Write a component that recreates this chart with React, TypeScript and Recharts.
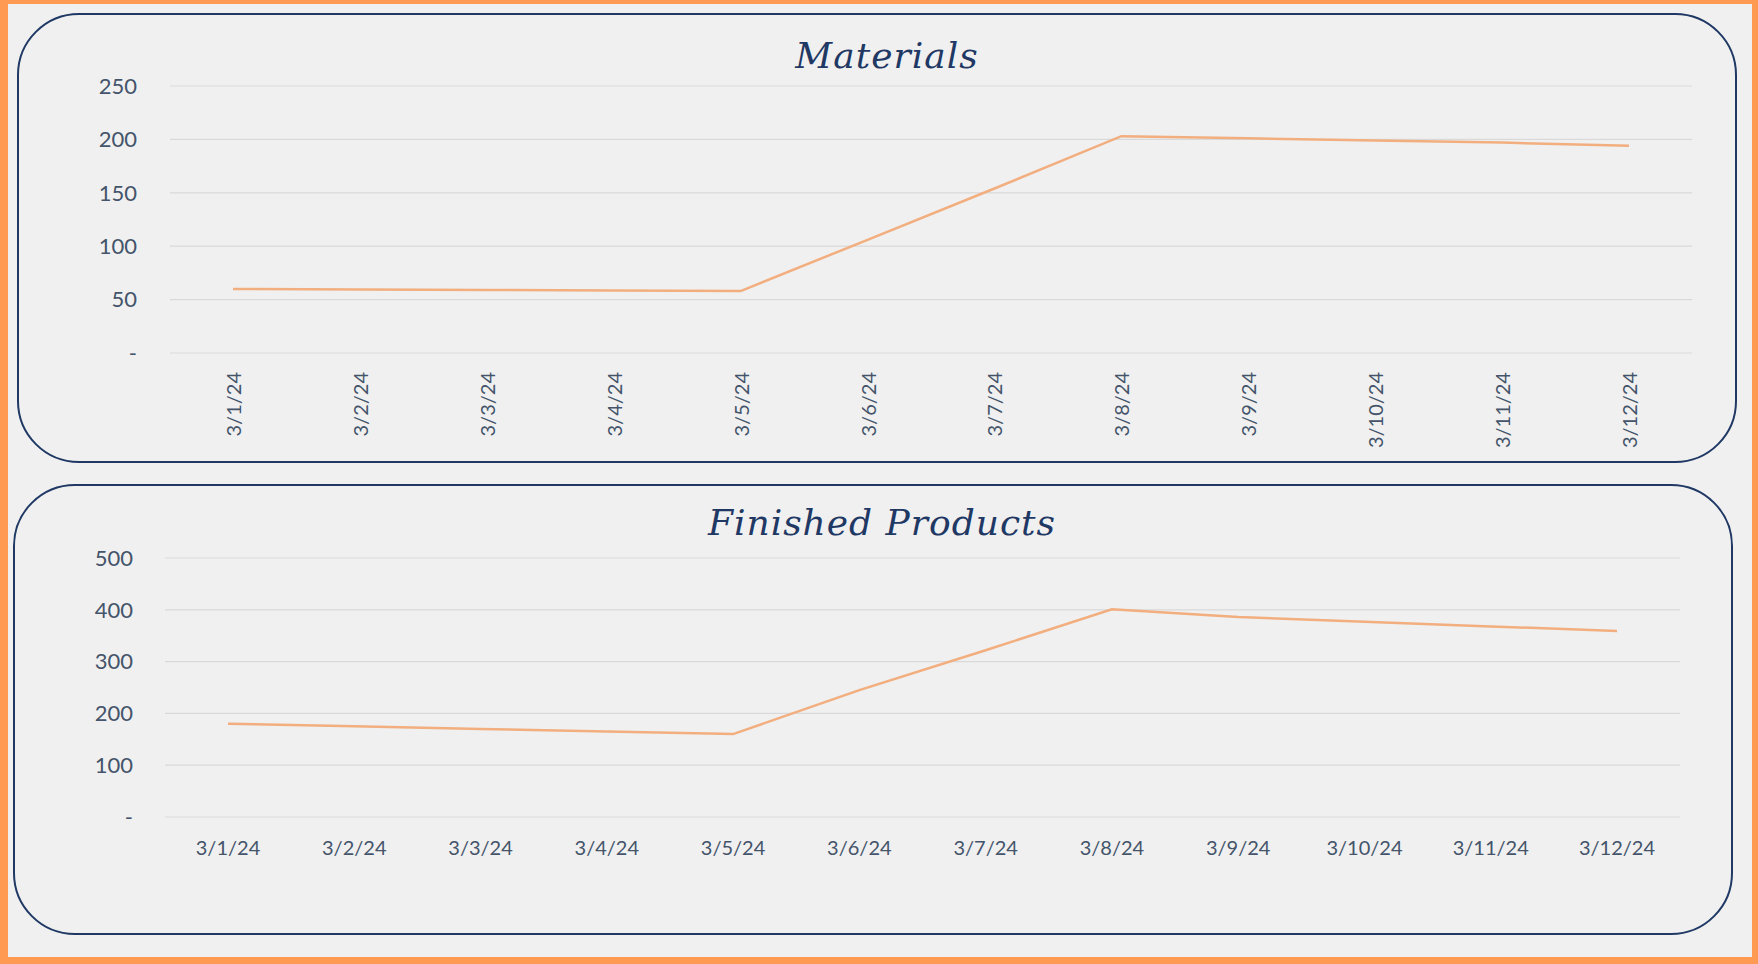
import { LineChart, Line, XAxis, YAxis, CartesianGrid } from 'recharts'

const DATES = ['3/1/24','3/2/24','3/3/24','3/4/24','3/5/24','3/6/24','3/7/24','3/8/24','3/9/24','3/10/24','3/11/24','3/12/24']
const MATERIALS = [60, 59.5, 59, 58.5, 58, 106, 154, 203, 201, 199, 197, 194]
const FINISHED  = [180, 175, 170, 165, 160, 245, 322, 401, 386, 377, 368, 359]
const MAT_TICKS = [0, 50, 100, 150, 200, 250]
const FIN_TICKS = [0, 100, 200, 300, 400, 500]

const NAVY = '#1F3864'
const TEXT = '#44546A'
const LINE = '#F2AE7E'
const GRID = '#D9D9D9'
const BG   = '#F0F0F0'

const tickFont = { fontSize: 22, fill: TEXT, fontFamily: 'Lato' }
const fmt = (v: number) => (v === 0 ? '-' : String(v))

function RotatedTick({ x, y, payload }: any) {
  return (
    <text x={x} y={y + 11} transform={`rotate(-90, ${x}, ${y + 11})`} textAnchor="end"
      dominantBaseline="central" fontSize={20} fill={TEXT} fontFamily="Lato">
      {payload.value}
    </text>
  )
}

const panel = (left: number, top: number) => ({
  position: 'absolute' as const, left, top, width: 1720, height: 450,
  boxSizing: 'border-box' as const, border: `2.5px solid ${NAVY}`, borderRadius: 62,
})

const title = (top: number) => ({
  position: 'absolute' as const, left: 0, width: '100%', top, textAlign: 'center' as const,
  fontFamily: 'DejaVu Serif', fontStyle: 'italic', fontSize: 36, letterSpacing: 1, color: NAVY, lineHeight: '40px',
})

export default function App() {
  const mat = DATES.map((d, i) => ({ d, v: MATERIALS[i] }))
  const fin = DATES.map((d, i) => ({ d, v: FINISHED[i] }))
  return (
    <div style={{ position: 'absolute', left: 0, top: 0, width: 1758, height: 964, boxSizing: 'border-box',
      background: BG, borderStyle: 'solid', borderColor: '#FF9A52', borderWidth: '4px 6px 7px 8px' }}>
      <div style={panel(9, 9)}>
        <div style={{ ...title(21), left: 10 }}>Materials</div>
        <div style={{ position: 'absolute', left: -2.5, top: -2.5 }}>
          <LineChart width={1720} height={450} data={mat} margin={{ top: 73, right: 45, bottom: 0, left: 0 }}>
            <CartesianGrid vertical={false} stroke={GRID} strokeWidth={1.2} />
            <XAxis dataKey="d" axisLine={false} tickLine={false} interval={0} height={110}
              padding={{ left: 63, right: 63 }} tick={<RotatedTick />} />
            <YAxis width={153} domain={[0, 250]} ticks={MAT_TICKS} axisLine={false} tickLine={false}
              tickSize={0} tickMargin={33} tick={tickFont} tickFormatter={fmt} />
            <Line type="linear" dataKey="v" stroke={LINE} strokeWidth={2.5} dot={false} isAnimationActive={false} />
          </LineChart>
        </div>
      </div>
      <div style={{ ...panel(5, 480), height: 451 }}>
        <div style={{ ...title(17), left: 9 }}>Finished Products</div>
        <div style={{ position: 'absolute', left: -2.5, top: -2.5 }}>
          <LineChart width={1720} height={451} data={fin} margin={{ top: 74, right: 53, bottom: 0, left: 0 }}>
            <CartesianGrid vertical={false} stroke={GRID} strokeWidth={1.2} />
            <XAxis dataKey="d" axisLine={false} tickLine={false} interval={0} height={118}
              padding={{ left: 63, right: 63 }} tickSize={0} tickMargin={24}
              tick={{ fontSize: 20, fill: TEXT, fontFamily: 'Lato' }} />
            <YAxis width={152} domain={[0, 500]} ticks={FIN_TICKS} axisLine={false} tickLine={false}
              tickSize={0} tickMargin={32} tick={tickFont} tickFormatter={fmt} />
            <Line type="linear" dataKey="v" stroke={LINE} strokeWidth={2.5} dot={false} isAnimationActive={false} />
          </LineChart>
        </div>
      </div>
    </div>
  )
}
